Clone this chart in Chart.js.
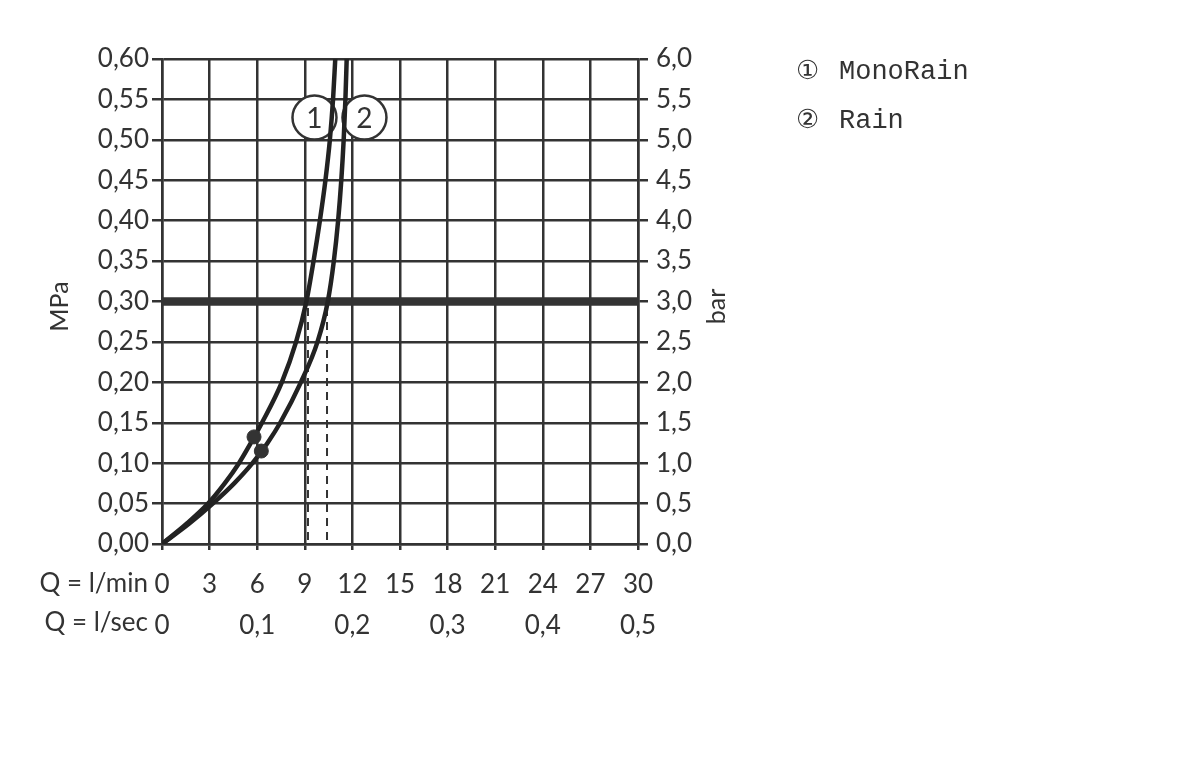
<!DOCTYPE html>
<html>
<head>
<meta charset="utf-8">
<script src="https://cdn.jsdelivr.net/npm/chart.js@4/dist/chart.umd.min.js"></script>
<style>
  html, body { margin: 0; padding: 0; background: #fff; }
  #chart { display: block; }
</style>
</head>
<body>
<canvas id="chart" width="1200" height="765"></canvas>
<script>
// ------------------------
// Data
// ------------------------

// pressure steps in MPa, shared by both curves
const pressure = [0, 0.025, 0.05, 0.075, 0.10, 0.125, 0.15, 0.20, 0.25, 0.30, 0.35, 0.40, 0.45, 0.50, 0.55, 0.60];

// flow in l/min at each pressure step
const monoRainFlow = [0, 1.55, 2.9, 3.95, 4.85, 5.6, 6.3, 7.55, 8.45, 9.1, 9.55, 9.95, 10.3, 10.58, 10.78, 10.92];
const rainFlow = [0, 1.7, 3.2, 4.55, 5.7, 6.65, 7.45, 8.75, 9.8, 10.45, 10.83, 11.1, 11.3, 11.45, 11.56, 11.64];

// marked points on the curves
const monoRainDot = { x: 5.8, y: 0.1325 };
const rainDot = { x: 6.26, y: 0.115 };

// reference pressure line and flows at that pressure
const refPressure = 0.30;
const refFlows = [9.2, 10.4];

// curve number badges
const badgeNumbers = ['1', '2'];
const badgeX = [9.61, 12.76];
const badgeY = [0.5275, 0.5275];

const legendMarks = ['\u2460', '\u2461'];
const legendNames = ['MonoRain', 'Rain'];

const FONT = 'Lato';
const INK = '#333';

const fmt = (v, d) => (v === 0 && d === 0 ? '0' : v.toFixed(d).replace('.', ','));

// ------------------------
// Extra drawing: badges text, axis titles, legend, Q rows
// ------------------------
const extras = {
  id: 'extras',
  afterDatasetsDraw(chart) {
    const { ctx, chartArea, scales } = chart;
    ctx.save();
    ctx.fillStyle = INK;

    // numbers in badges
    ctx.font = '28px ' + FONT;
    ctx.textAlign = 'center';
    ctx.textBaseline = 'middle';
    badgeNumbers.forEach((n, i) => {
      ctx.fillText(n, scales.x.getPixelForValue(badgeX[i]), scales.y.getPixelForValue(badgeY[i]) + 1);
    });

    // rotated axis titles
    const midY = (chartArea.top + chartArea.bottom) / 2 + 5;
    ctx.font = '25px ' + FONT;
    [['MPa', 60], ['bar', 717]].forEach(([t, x]) => {
      ctx.save();
      ctx.translate(x, midY);
      ctx.rotate(-Math.PI / 2);
      ctx.fillText(t, 0, 0);
      ctx.restore();
    });

    // Q rows prefixes
    ctx.textAlign = 'right';
    ctx.font = '26px ' + FONT;
    ctx.fillText('Q = l/min', 148, 584);
    ctx.fillText('Q = l/sec', 148, 623);

    // legend
    ctx.textAlign = 'left';
    legendNames.forEach((name, i) => {
      const y = 72 + i * 49;
      ctx.font = '26px "DejaVu Sans"';
      ctx.fillText(legendMarks[i], 796, y);
      ctx.font = '27px "Liberation Mono"';
      ctx.fillText(name, 839, y);
    });
    ctx.restore();
  }
};

// ------------------------
// Chart setup
// ------------------------
const toPoints = (xs, ys) => xs.map((x, i) => ({ x, y: ys[i] }));

const tickFont = { family: FONT, size: 26 };
const gridStyle = { color: INK, lineWidth: 2.5 };

new Chart(document.getElementById('chart'), {
  type: 'scatter',
  data: {
    datasets: [
      {
        data: toPoints(monoRainFlow, pressure),
        showLine: true, cubicInterpolationMode: 'monotone', borderColor: '#222', borderWidth: 4.5,
        pointRadius: 0, order: 1
      },
      {
        data: toPoints(rainFlow, pressure),
        showLine: true, cubicInterpolationMode: 'monotone', borderColor: '#222', borderWidth: 4.5,
        pointRadius: 0, order: 1
      },
      {
        data: [{ x: 0, y: refPressure }, { x: 30, y: refPressure }],
        showLine: true, borderColor: INK, borderWidth: 8.5, pointRadius: 0, order: 3
      },
      ...refFlows.map(f => ({
        data: [{ x: f, y: refPressure - 0.008 }, { x: f, y: 0 }],
        showLine: true, borderColor: INK, borderWidth: 2, borderDash: [8, 6],
        pointRadius: 0, order: 3
      })),
      {
        data: [monoRainDot, rainDot],
        backgroundColor: INK, borderColor: INK, pointRadius: 7, order: 0
      },
      {
        data: toPoints(badgeX, badgeY),
        backgroundColor: '#fff', borderColor: INK, borderWidth: 2.5,
        pointRadius: 22, order: 2
      }
    ]
  },
  options: {
    responsive: false,
    animation: false,
    events: [],
    layout: { padding: { top: 59, bottom: 111, left: 0, right: 0 } },
    plugins: { legend: { display: false }, tooltip: { enabled: false } },
    scales: {
      x: {
        type: 'linear', position: 'bottom', min: 0, max: 30,
        ticks: { stepSize: 3, font: tickFont, color: INK, padding: 19, maxRotation: 0 },
        grid: { ...gridStyle, tickLength: 6 },
        border: { color: INK, width: 2.5 },
        afterFit: s => { s.height = 60; }
      },
      x2: {
        type: 'linear', position: 'bottom', min: 0, max: 0.5,
        ticks: { stepSize: 0.1, font: tickFont, color: INK, padding: -2, maxRotation: 0,
                 callback: v => fmt(v, v === 0 ? 0 : 1) },
        grid: { display: false },
        border: { display: false },
        afterFit: s => { s.height = 50; }
      },
      y: {
        type: 'linear', position: 'left', min: 0, max: 0.6,
        ticks: { stepSize: 0.05, font: tickFont, color: INK, padding: 3,
                 callback: v => fmt(v, 2) },
        grid: { ...gridStyle, tickLength: 10 },
        border: { color: INK, width: 2.5 },
        afterFit: s => { s.width = 162; }
      },
      y2: {
        type: 'linear', position: 'right', min: 0, max: 6,
        ticks: { stepSize: 0.5, font: tickFont, color: INK, padding: 8,
                 callback: v => fmt(v, 1) },
        grid: { ...gridStyle, drawOnChartArea: false, tickLength: 10 },
        border: { color: INK, width: 2.5 },
        afterFit: s => { s.width = 562; }
      }
    }
  },
  plugins: [extras]
});
</script>
</body>
</html>
